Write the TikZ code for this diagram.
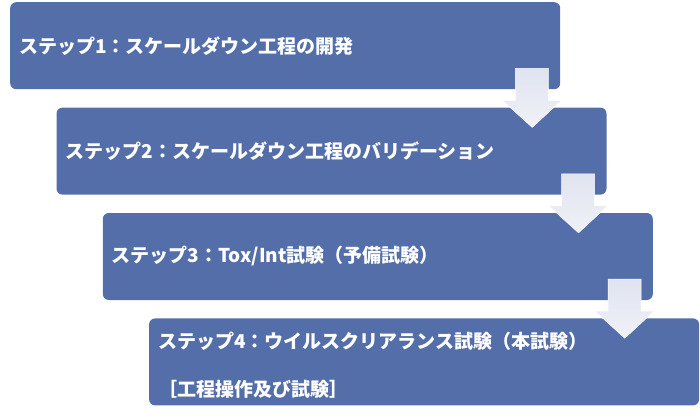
\documentclass[tikz,border=0pt]{standalone}
\usepackage{fontspec}
\newfontfamily\jpfont{Noto Sans CJK JP}
\usetikzlibrary{positioning, calc}
\definecolor{stepblue}{RGB}{84,110,170}
\definecolor{arrowtop}{RGB}{224,228,240}
\definecolor{arrowbot}{RGB}{240,241,247}

\begin{document}
\begin{tikzpicture}[
		x=1pt, y=-1pt,
		node distance=18pt,
		stepbox/.style={fill=stepblue, rounded corners=6pt, minimum width=550pt, minimum height=87pt, text width=532pt, inner xsep=9pt, align=left, text=white, font=\jpfont\bfseries\fontsize{19}{48}\selectfont},
		downarrow/.style={top color=arrowtop, bottom color=arrowbot, draw=white, line width=0.5pt}
		]
		\useasboundingbox (0,0) rectangle (700,418);
		% Steps
		\node[stepbox, anchor=north west] at (10,2) (box1) {ステップ1：スケールダウン工程の開発};
		\node[stepbox, below=of box1, xshift=46.3pt] (box2) {ステップ2：スケールダウン工程のバリデーション};
		\node[stepbox, below=of box2, xshift=46.3pt] (box3) {ステップ3：Tox/Int試験（予備試験）};
		\node[stepbox, below=of box3, xshift=46.3pt] (box4) {\rule{0pt}{24pt}ステップ4：ウイルスクリアランス試験（本試験）\\［工程操作及び試験］};
		
		% Arrows between the steps
		\draw[downarrow] ($(box1.south east)+(-45,-21)$) -- ++(33,0) -- ++(0,32) -- ++(13,0) -- ($(box2.north east)+(-74.5,20)$) -- ($(box1.south east)+(-58,11)$) -- ++(13,0) -- cycle;
		\draw[downarrow] ($(box2.south east)+(-45,-21)$) -- ++(33,0) -- ++(0,32) -- ++(13,0) -- ($(box3.north east)+(-74.5,20)$) -- ($(box2.south east)+(-58,11)$) -- ++(13,0) -- cycle;
		\draw[downarrow] ($(box3.south east)+(-45,-21)$) -- ++(33,0) -- ++(0,32) -- ++(13,0) -- ($(box4.north east)+(-74.5,20)$) -- ($(box3.south east)+(-58,11)$) -- ++(13,0) -- cycle;
	\end{tikzpicture}
\end{document}
